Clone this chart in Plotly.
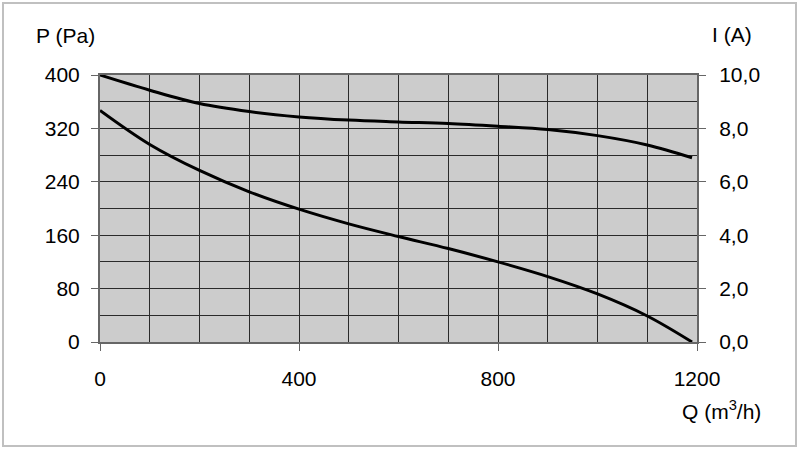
import plotly.graph_objects as go

# Data
flow_q = [0, 100, 200, 300, 400, 500, 600, 700, 800, 900, 1000, 1100, 1190]
pressure_pa = [347, 296, 257, 225, 199, 177, 158, 140, 120, 98, 72, 39, 0]
current_a = [10.0, 9.43, 8.93, 8.63, 8.43, 8.31, 8.24, 8.18, 8.08, 7.96, 7.73, 7.38, 6.9]

x_tickvals = [0, 400, 800, 1200]
x_ticktext = ["0", "400", "800", "1200"]
p_tickvals = [0, 80, 160, 240, 320, 400]
p_ticktext = ["0", "80", "160", "240", "320", "400"]
i_tickvals = [0, 2, 4, 6, 8, 10]
i_ticktext = ["0,0", "2,0", "4,0", "6,0", "8,0", "10,0"]

FONT = "Liberation Sans, Arial, sans-serif"
FS = 21
GRID = "#2a2a2a"
AXIS = "#666666"

fig = go.Figure()
fig.add_trace(go.Scatter(x=flow_q, y=pressure_pa, mode="lines",
                         line=dict(color="black", width=3, shape="spline", smoothing=1.0),
                         yaxis="y", showlegend=False, hoverinfo="skip"))
fig.add_trace(go.Scatter(x=flow_q, y=current_a, mode="lines",
                         line=dict(color="black", width=3, shape="spline", smoothing=1.0),
                         yaxis="y2", showlegend=False, hoverinfo="skip"))

fig.update_layout(
    width=800, height=450,
    margin=dict(l=100, r=103, t=75, b=108),
    paper_bgcolor="white",
    plot_bgcolor="#cccccc",
    font=dict(family=FONT, size=FS, color="black"),
    xaxis=dict(range=[0, 1200], tickvals=x_tickvals, ticktext=x_ticktext,
               showgrid=True, gridcolor=GRID, gridwidth=1,
               minor=dict(dtick=100, showgrid=True, gridcolor=GRID, gridwidth=1, ticks=""),
               ticks="outside", ticklen=7, tickcolor=AXIS, tickwidth=1,
               showline=True, linecolor=AXIS, linewidth=2, mirror=True,
               zeroline=False, ticklabelstandoff=10, fixedrange=True),
    yaxis=dict(range=[0, 400], tickvals=p_tickvals, ticktext=p_ticktext,
               showgrid=True, gridcolor=GRID, gridwidth=1,
               minor=dict(dtick=40, showgrid=True, gridcolor=GRID, gridwidth=1, ticks=""),
               ticks="outside", ticklen=7, tickcolor=AXIS, tickwidth=1,
               showline=True, linecolor=AXIS, linewidth=2, mirror=True,
               zeroline=False, ticklabelstandoff=7, fixedrange=True),
    yaxis2=dict(range=[0, 10], tickvals=i_tickvals, ticktext=i_ticktext,
                overlaying="y", side="right", showgrid=False,
                ticks="outside", ticklen=7, tickcolor=AXIS, tickwidth=1,
                showline=True, linecolor=AXIS, linewidth=2,
                zeroline=False, ticklabelstandoff=9, fixedrange=True),
    annotations=[
        dict(text="P (Pa)", xref="paper", yref="paper", x=(34 - 100) / 597, y=(342 - 35) / 267,
             xanchor="left", yanchor="middle", showarrow=False, font=dict(size=FS)),
        dict(text="I (A)", xref="paper", yref="paper", x=(754 - 100) / 597, y=(342 - 34) / 267,
             xanchor="right", yanchor="middle", showarrow=False, font=dict(size=FS)),
        dict(text="Q (m<sup>3</sup>/h)", xref="paper", yref="paper", x=(763 - 100) / 597, y=(342 - 410) / 267,
             xanchor="right", yanchor="middle", showarrow=False, font=dict(size=FS)),
    ],
    shapes=[
        dict(type="rect", xref="paper", yref="paper",
             x0=(3 - 100) / 597, x1=(796 - 100) / 597,
             y0=(342 - 446) / 267, y1=(342 - 3) / 267,
             line=dict(color="#c0c0c0", width=2), fillcolor="rgba(0,0,0,0)", layer="below"),
    ],
)

fig.write_html("out.html", config={"displayModeBar": False},
               post_script="document.body.style.margin='0';document.body.style.padding='0';")
